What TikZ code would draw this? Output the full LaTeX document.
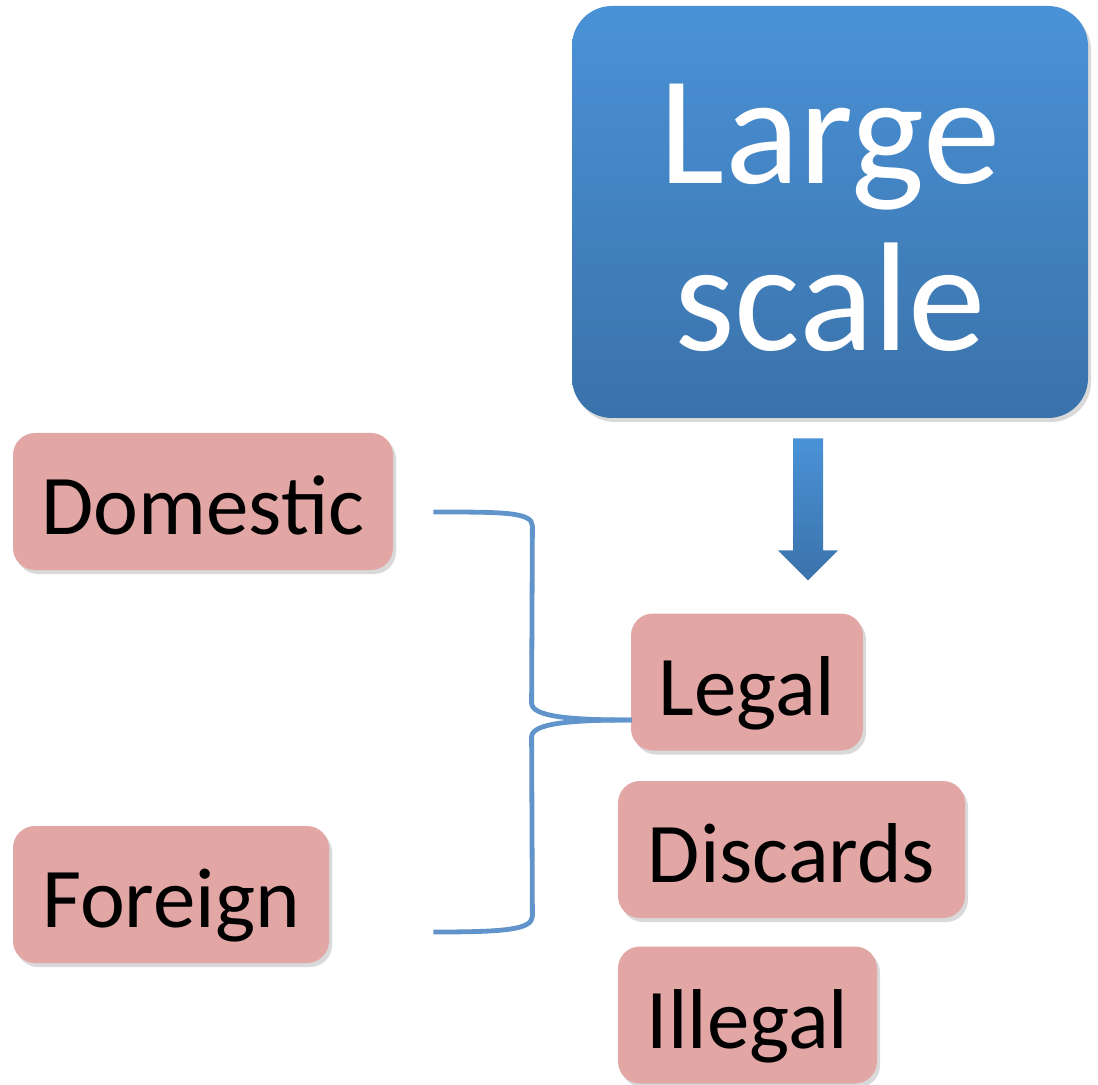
\documentclass[tikz,border=0pt]{standalone}
\usepackage{fontspec}
\setmainfont{Carlito}
\usetikzlibrary{positioning,calc,shadows}
\definecolor{pinkbox}{RGB}{226,167,165}
\definecolor{bluetop}{RGB}{74,146,215}
\definecolor{bluebot}{RGB}{58,114,170}
\definecolor{bracecol}{RGB}{96,148,202}

\begin{document}
\begin{tikzpicture}
[x=0.5pt,y=-0.5pt,
 bigbox/.style={rounded corners=20pt,inner sep=0pt,top color=bluetop,bottom color=bluebot,
   minimum width=258pt,minimum height=206pt,
   drop shadow={shadow xshift=1.5pt,shadow yshift=-2pt,opacity=0.3}},
 bigtext/.style={inner sep=0pt,align=center,text=white,font=\fontsize{77.5}{83.5}\selectfont},
 item/.style={rounded corners=11pt,inner sep=0pt,fill=pinkbox,minimum height=68.5pt,
   text height=33pt,text depth=0pt,font=\fontsize{42.5}{50}\selectfont,
   drop shadow={shadow xshift=1.5pt,shadow yshift=-2pt,opacity=0.3}},
 bracket/.style={draw=bracecol,line width=2.4pt}]
      \useasboundingbox (0,0) rectangle (1098,1085);

      \node[bigbox] (big) at (830,212) {};
      \node[bigtext] (bigtxt) at ([yshift=-3pt]big.center) {Large\\scale};
      \node[item,minimum width=190pt] (dom) at (203,501.5) {Domestic};
      \node[item,minimum width=158pt] (for) at (171,894.5) {Foreign};
      \node[item,minimum width=116pt] (legal) at (747,682) {Legal};
      \node[item,minimum width=173.5pt] (disc) at (791.5,849.5) {Discards};
      \node[item,minimum width=129.5pt] (ill) at (747.5,1015) {Illegal};

      % block arrow
      \coordinate (a0) at ($(big.south)+(-37,20)$);
      \shade[top color=bluetop,bottom color=bluebot]
        (a0) -- ++(30,0) -- ++(0,112) -- ++(15,0) -- ++(-30,30) -- ++(-30,-30) -- ++(15,0) -- cycle;

      % brace
      \coordinate (tip) at ($(legal.west)+(1,38)$);
      \coordinate (d0) at ($(dom.east)+(40,10.5)$);
      \coordinate (f0) at ($(for.east)+(104,37.5)$);
      \draw[bracket] (d0) .. controls +(70,0) and +(0,-14) .. ++(99,14) -- ($(tip)+(-100,-17)$)
        .. controls +(0,14) and +(-60,0) .. (tip);
      \draw[bracket] (tip) .. controls +(-60,0) and +(0,-14) .. ($(tip)+(-100,17)$)
        -- ($(f0)+(99,-16)$) .. controls +(0,14) and +(70,0) .. (f0);
\end{tikzpicture}
\end{document}
